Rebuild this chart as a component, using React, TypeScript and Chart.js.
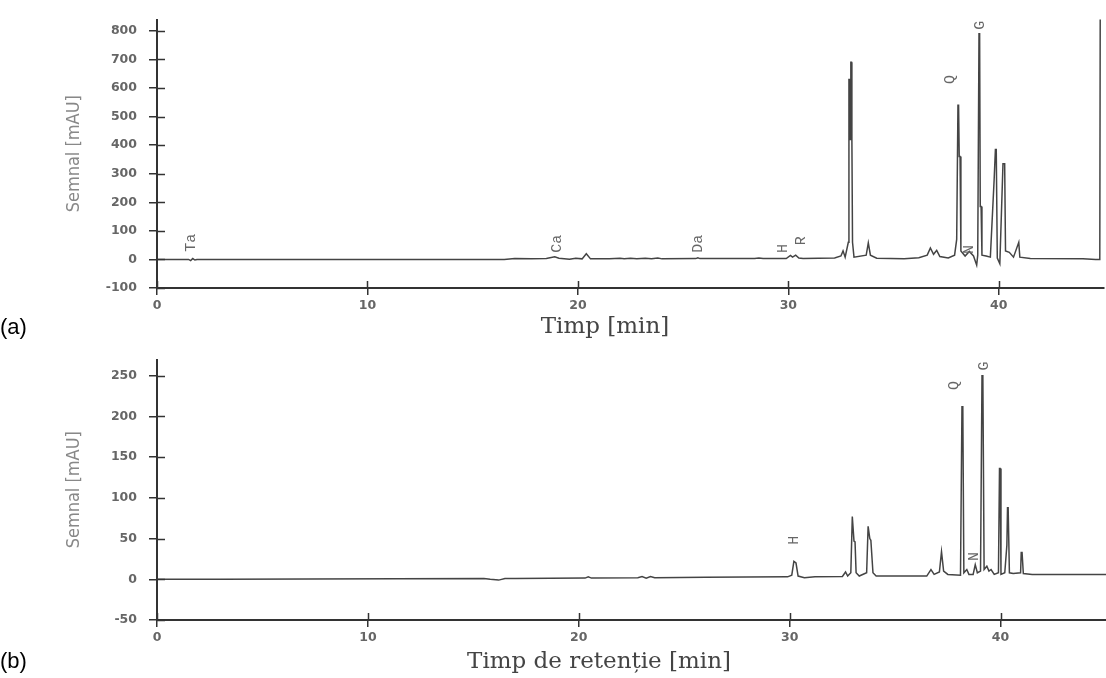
import React, { useEffect, useRef } from "react";
import { Chart, registerables } from "chart.js";

Chart.register(...registerables);

// ---------- Data ----------
const timeA = [
  0, 1.5, 1.6, 1.7, 1.8, 1.9, 16.5, 17.0, 17.8, 18.5, 18.9, 19.1, 19.6, 19.9, 20.2, 20.4, 20.6,
  21.5, 22.0, 22.2, 22.5, 22.8, 23.2, 23.5, 23.8, 24.0, 25.6, 25.7, 25.8, 28.4, 28.6, 28.8,
  29.9, 30.1, 30.2, 30.35, 30.5, 30.7, 32.2, 32.5, 32.6, 32.7, 32.85, 32.88, 32.92, 32.95, 32.97,
  33.0, 33.02, 33.05, 33.12, 33.7, 33.8, 33.9, 34.2, 35.5, 36.2, 36.6, 36.75, 36.9, 37.05, 37.2,
  37.6, 37.9, 38.0, 38.06, 38.09, 38.12, 38.16, 38.2, 38.4, 38.6, 38.8, 38.95, 39.0, 39.06, 39.09,
  39.12, 39.16, 39.2, 39.4, 39.6, 39.78, 39.82, 39.84, 39.88, 39.93, 40.05, 40.2, 40.28, 40.32,
  40.5, 40.7, 40.95, 41.0, 41.5, 44.0, 44.6, 44.8, 44.82,
];
const signalA = [
  0, 0, -4, 3, -2, 0, 0, 3, 2, 3, 9, 4, 1, 4, 2, 20, 2,
  2, 4, 2, 4, 2, 4, 2, 5, 2, 3, 6, 3, 3, 5, 3,
  3, 14, 8, 15, 5, 3, 5, 12, 30, 8, 60, 630, 630, 420, 690,
  690, 420, 60, 8, 15, 58, 15, 4, 2, 6, 15, 40, 18, 32, 10,
  5, 15, 70, 540, 540, 360, 360, 30, 12, 28, 12, -20, 15, 790, 790,
  185, 185, 15, 12, 8, 280, 280, 385, 385, 5, -15, 335, 335, 30,
  25, 8, 60, 8, 3, 2, 0, 0, 850,
];

const timeB = [
  0, 3, 15.5, 15.8, 16.2, 16.5, 17, 20.3, 20.45, 20.6, 22.8, 23.0, 23.2, 23.4, 23.6, 26,
  29.9, 30.1, 30.2, 30.3, 30.4, 30.7, 31.2, 32.5, 32.65, 32.75, 32.9, 32.97, 33.0, 33.05, 33.1,
  33.15, 33.3, 33.65, 33.72, 33.75, 33.8, 33.85, 33.95, 34.1, 36.5, 36.7, 36.85, 37.1, 37.2,
  37.3, 37.5, 38.1, 38.17, 38.21, 38.26, 38.4, 38.5, 38.7, 38.8, 38.9, 39.05, 39.12, 39.16,
  39.22, 39.35, 39.45, 39.55, 39.7, 39.9, 39.95, 39.98, 40.02, 40.2, 40.3, 40.33, 40.36, 40.42,
  40.6, 40.95, 40.98, 41.02, 41.08, 41.5, 43.5, 45,
];
const signalB = [
  0, 0, 1, 0, -1, 1, 1, 1.5, 3, 1.5, 2, 3.5, 1.5, 3.5, 2, 2.5,
  3, 5, 22, 20, 4, 2, 3, 3.5, 9, 4, 8, 77, 77, 47, 46,
  8, 4, 8, 65, 65, 50, 48, 8, 4, 4, 12, 6, 9, 34,
  10, 6, 5, 212, 212, 8, 12, 6, 6, 18, 8, 10, 250, 250,
  12, 16, 10, 12, 6, 8, 136, 136, 6, 8, 42, 88, 88, 8,
  7, 8, 33, 33, 7, 6, 6, 6,
];

const yTicksA = [-100, 0, 100, 200, 300, 400, 500, 600, 700, 800];
const yTicksB = [-50, 0, 50, 100, 150, 200, 250];
const xTicks = [0, 10, 20, 30, 40];

const peakNamesA = ["Ta", "Ca", "Da", "H", "R", "Q", "N", "G"];
const peakTimesA = [1.6, 19.0, 25.7, 29.75, 30.6, 37.7, 38.6, 39.1];
const peakLevelsA = [58, 55, 55, 38, 65, 630, 35, 820];

const peakNamesB = ["H", "Q", "N", "G"];
const peakTimesB = [30.2, 37.8, 38.75, 39.2];
const peakLevelsB = [48, 238, 28, 262];

// ---------- Chart factory ----------
type PanelOpts = {
  times: number[];
  values: number[];
  yMin: number;
  yMax: number;
  yTicks: number[];
  xMax: number;
  padTop: number;
  padRight: number;
  xAxisHeight: number;
  xTitle: string;
  xTitleX: number;
  xTitleY: number;
  names: string[];
  nameTimes: number[];
  nameLevels: number[];
};

const tickFont = { family: "'DejaVu Sans', sans-serif", size: 12.5, weight: "bold" };

function makeConfig(o: PanelOpts): any {
  const innerTicks = {
    id: "innerTicks",
    afterDraw(chart: any) {
      const { ctx, chartArea, scales } = chart;
      ctx.save();
      ctx.strokeStyle = "#333";
      ctx.lineWidth = 1.5;
      for (const v of o.yTicks) {
        const y = Math.round(scales.y.getPixelForValue(v)) + 0.5;
        ctx.beginPath();
        ctx.moveTo(chartArea.left, y);
        ctx.lineTo(chartArea.left + 8, y);
        ctx.stroke();
      }
      for (const v of xTicks) {
        const x = Math.round(scales.x.getPixelForValue(v)) + 0.5;
        ctx.beginPath();
        ctx.moveTo(x, chartArea.bottom);
        ctx.lineTo(x, chartArea.bottom - 7);
        ctx.stroke();
      }
      // x axis title
      ctx.fillStyle = "#444";
      ctx.font = "23px 'DejaVu Serif', serif";
      ctx.textAlign = "center";
      ctx.textBaseline = "middle";
      ctx.fillText(o.xTitle, o.xTitleX, o.xTitleY);
      // peak labels (rotated)
      ctx.fillStyle = "#666";
      ctx.font = "15px 'Liberation Mono', monospace";
      for (let i = 0; i < o.names.length; i++) {
        const px = scales.x.getPixelForValue(o.nameTimes[i]);
        const py = scales.y.getPixelForValue(o.nameLevels[i]);
        ctx.save();
        ctx.translate(px, py);
        ctx.rotate(-Math.PI / 2);
        ctx.fillText(o.names[i], 0, 0);
        ctx.restore();
      }
      ctx.restore();
    },
  };

  return {
    type: "line",
    data: {
      datasets: [
        {
          data: o.times.map((t, i) => ({ x: t, y: o.values[i] })),
          borderColor: "#444",
          borderWidth: 1.5,
          pointRadius: 0,
          tension: 0,
          fill: false,
        },
      ],
    },
    options: {
      animation: false,
      responsive: false,
      maintainAspectRatio: false,
      layout: { padding: { top: o.padTop, right: o.padRight, left: 0, bottom: 0 } },
      plugins: { legend: { display: false }, tooltip: { enabled: false } },
      scales: {
        x: {
          type: "linear",
          min: 0,
          max: o.xMax,
          afterBuildTicks: (axis: any) => {
            axis.ticks = xTicks.map((v) => ({ value: v }));
          },
          afterFit: (axis: any) => {
            axis.height = o.xAxisHeight;
          },
          grid: {
            drawOnChartArea: false,
            drawTicks: true,
            tickLength: 7,
            color: "#333",
            lineWidth: 1.5,
          },
          border: { display: true, color: "#333", width: 2 },
          ticks: {
            maxRotation: 0,
            padding: 3,
            color: "#666",
            font: tickFont,
          },
        },
        y: {
          type: "linear",
          min: o.yMin,
          max: o.yMax,
          afterBuildTicks: (axis: any) => {
            axis.ticks = o.yTicks.map((v) => ({ value: v }));
          },
          afterFit: (axis: any) => {
            axis.width = 157;
          },
          grid: {
            drawOnChartArea: false,
            drawTicks: true,
            tickLength: 8,
            color: "#333",
            lineWidth: 1.5,
          },
          border: { display: true, color: "#333", width: 2 },
          ticks: {
            padding: 12,
            color: "#666",
            font: tickFont,
          },
          title: {
            display: true,
            text: "Semnal [mAU]",
            color: "#888",
            font: { family: "'DejaVu Sans Condensed', 'Liberation Sans Narrow', 'Open Sans', sans-serif", size: 18 },
            padding: { top: 64, bottom: 0 },
          },
        },
      },
    },
    plugins: [innerTicks],
  };
}

function Panel(props: { opts: PanelOpts; top: number; height: number }) {
  const ref = useRef<HTMLCanvasElement | null>(null);
  useEffect(() => {
    if (!ref.current) return;
    const chart = new Chart(ref.current, makeConfig(props.opts));
    return () => chart.destroy();
  }, []);
  return (
    <canvas
      ref={ref}
      width={1106}
      height={props.height}
      style={{ position: "absolute", left: 0, top: props.top, width: 1106, height: props.height, display: "block" }}
    />
  );
}

const panelA: PanelOpts = {
  times: timeA,
  values: signalA,
  yMin: -100,
  yMax: 840,
  yTicks: yTicksA,
  xMax: 45,
  padTop: 15,
  padRight: 2,
  xAxisHeight: 52,
  xTitle: "Timp [min]",
  xTitleX: 605,
  xTitleY: 327,
  names: peakNamesA,
  nameTimes: peakTimesA,
  nameLevels: peakLevelsA,
};

const panelB: PanelOpts = {
  times: timeB,
  values: signalB,
  yMin: -50,
  yMax: 270,
  yTicks: yTicksB,
  xMax: 45,
  padTop: 8,
  padRight: 0,
  xAxisHeight: 58,
  xTitle: "Timp de retenție [min]",
  xTitleX: 599,
  xTitleY: 322,
  names: peakNamesB,
  nameTimes: peakTimesB,
  nameLevels: peakLevelsB,
};

export default function App() {
  const labelStyle: React.CSSProperties = {
    position: "absolute",
    left: 0,
    fontFamily: "'Liberation Sans', Arial, sans-serif",
    fontSize: 22,
    lineHeight: "26px",
    color: "#000",
  };
  return (
    <div style={{ position: "absolute", left: 0, top: 0, width: 1106, height: 678, background: "#fff", overflow: "hidden" }}>
      <Panel opts={panelA} top={0} height={340} />
      <Panel opts={panelB} top={340} height={338} />
      <div style={{ ...labelStyle, top: 314 }}>(a)</div>
      <div style={{ ...labelStyle, top: 648 }}>(b)</div>
    </div>
  );
}
